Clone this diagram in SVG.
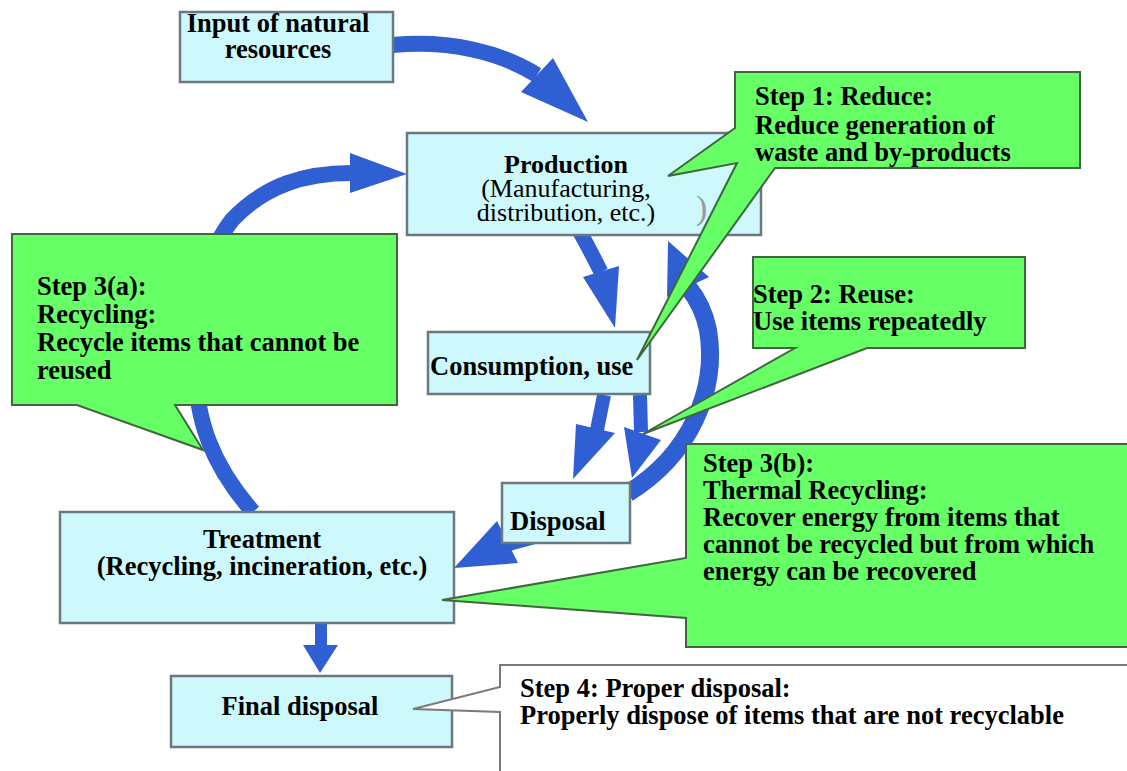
<svg xmlns="http://www.w3.org/2000/svg" width="1127" height="771" viewBox="0 0 1127 771">
<style>
text{font-family:"Liberation Serif","Times New Roman",serif;font-size:26.5px;fill:#000;}
.b{font-weight:bold;}
.p{font-size:26px;}
.n{fill:#cdf8fc;stroke:#6b787e;stroke-width:2.5;}
.g{fill:#66ff66;stroke:#41663f;stroke-width:2;stroke-linejoin:miter;}
.w{fill:#fff;stroke:#7a7a7a;stroke-width:2;}
.s{fill:none;stroke:#2f5fd2;}
.h{fill:#2f5fd2;}
</style>
<rect width="1127" height="771" fill="#fff"/>
<g id="connectors">
  <path class="s" stroke-width="16" d="M393,45 C450,40 500,52 537,75"/>
  <polygon class="h" points="521,92 553,58 588,122"/>
  <path class="s" stroke-width="16" d="M253,512 C212,465 195,420 195,360 C195,300 205,255 232,220 C265,185 305,173 352,173"/>
  <polygon class="h" points="350,153 350,193 407,174"/>
  <path class="s" stroke-width="15" d="M580,232 Q590,250 601,272"/>
  <polygon class="h" points="583,277 619,266 615,328"/>
  <path class="s" stroke-width="14" d="M604,395 L597,430"/>
  <polygon class="h" points="576,424 615,433 573,479"/>
  <path class="s" stroke-width="14" d="M640,395 L641,432"/>
  <polygon class="h" points="624,427 661,440 632,478"/>
  <path class="s" stroke-width="18" d="M628,493 C690,455 718,390 708,330 C704,310 697,298 688,287"/>
  <polygon class="h" points="709,277 667,297 668,241"/>
  <path class="s" stroke-width="14" d="M560,530 L505,545"/>
  <polygon class="h" points="497,521 518,563 454,568"/>
  <polygon class="h" points="315,622 327,622 327,645 338,645 320,673 303,645 315,645"/>
</g>
<g id="input">
  <rect class="n" x="180" y="12" width="213" height="70"/>
  <text class="b" x="278" y="32" text-anchor="middle">Input of natural</text>
  <text class="b" x="278" y="58" text-anchor="middle">resources</text>
</g>
<g id="production">
  <rect class="n" x="407" y="133" width="354" height="102"/>
  <text class="b p" x="566" y="173" text-anchor="middle">Production</text>
  <text class="p" x="566" y="197" text-anchor="middle">(Manufacturing,</text>
  <text class="p" x="566" y="221" text-anchor="middle">distribution, etc.)</text>
  <text x="696" y="219" style="fill:#9a9a9a;font-size:34px">)</text>
</g>
<g id="consumption">
  <rect class="n" x="428" y="332" width="222" height="62"/>
  <text class="b" x="430" y="375">Consumption, use</text>
</g>
<g id="disposal">
  <rect class="n" x="502" y="483" width="128" height="60"/>
  <text class="b" x="510" y="530">Disposal</text>
</g>
<g id="treatment">
  <rect class="n" x="60" y="512" width="394" height="111"/>
  <text class="b" x="262" y="548" text-anchor="middle">Treatment</text>
  <text class="b" x="262" y="575" text-anchor="middle">(Recycling, incineration, etc.)</text>
</g>
<g id="final-disposal">
  <rect class="n" x="171" y="676" width="281" height="71"/>
  <text class="b" x="300" y="715" text-anchor="middle">Final disposal</text>
</g>
<g id="step1">
  <polygon class="g" points="735,72 1080,72 1080,168 775,168 637,360 737,163 668,176 735,128"/>
  <text class="b" x="755" y="105">Step 1: Reduce:</text>
  <text class="b" x="755" y="134">Reduce generation of</text>
  <text class="b" x="755" y="161">waste and by-products</text>
</g>
<g id="step2">
  <polygon class="g" points="753,257 1025,257 1025,348 867,348 643,434 795,348 753,348"/>
  <text class="b" x="753" y="303">Step 2: Reuse:</text>
  <text class="b" x="753" y="330">Use items repeatedly</text>
</g>
<g id="step3a">
  <polygon class="g" points="12,234 397,234 397,405 175,405 203,450 77,405 12,405"/>
  <text class="b" x="37" y="295">Step 3(a):</text>
  <text class="b" x="37" y="323">Recycling:</text>
  <text class="b" x="37" y="351">Recycle items that cannot be</text>
  <text class="b" x="37" y="379">reused</text>
</g>
<g id="step3b">
  <polygon class="g" points="686,444 1140,444 1140,647 686,647 686,618 442,600 686,558"/>
  <text class="b" x="703" y="472">Step 3(b):</text>
  <text class="b" x="703" y="499">Thermal Recycling:</text>
  <text class="b" x="703" y="526">Recover energy from items that</text>
  <text class="b" x="703" y="553">cannot be recycled but from which</text>
  <text class="b" x="703" y="580">energy can be recovered</text>
</g>
<g id="step4">
  <polygon class="w" points="500,665 1140,665 1140,790 500,790 500,712 413,709 500,687"/>
  <text class="b" x="520" y="697">Step 4: Proper disposal:</text>
  <text class="b" x="520" y="724">Properly dispose of items that are not recyclable</text>
</g>
</svg>
